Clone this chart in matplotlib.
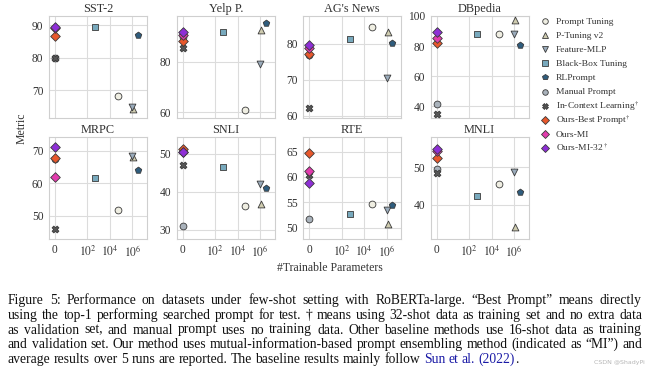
import matplotlib
matplotlib.use('Agg')
import matplotlib.pyplot as plt
from matplotlib.lines import Line2D

SERIF = 'Liberation Serif'
plt.rcParams['font.family'] = SERIF
plt.rcParams['mathtext.fontset'] = 'stix'

GRID_COLOR = '#dcdcdc'
TEXT_COLOR = '#333333'
EDGE_COLOR = '#3a3a3a'

datasets = ['SST-2', 'Yelp P.', "AG's News", 'DBpedia', 'MRPC', 'SNLI', 'RTE', 'MNLI']
methods = ['Prompt Tuning', 'P-Tuning v2', 'Feature-MLP', 'Black-Box Tuning', 'RLPrompt',
           'Manual Prompt', 'In-Context Learning$^\\dagger$', 'Ours-Best Prompt$^\\dagger$',
           'Ours-MI', 'Ours-MI-32$^\\dagger$']
# number of trainable parameters for each method
n_params = [5e4, 1.2e6, 1e6, 500, 3.1e6, 0, 0, 0, 0, 0]

# scores per dataset, same order as `datasets`
prompt_tuning = [68.23, 61.02, 84.81, 87.75, 51.61, 36.13, 54.69, 45.7]
p_tuning_v2 = [64.33, 92.63, 83.46, 97.05, 68.14, 36.89, 50.78, 34.2]
feature_mlp = [64.80, 79.20, 70.44, 87.88, 68.40, 42.01, 53.43, 48.7]
black_box = [89.56, 91.50, 81.51, 87.80, 61.56, 46.58, 52.59, 42.3]
rl_prompt = [87.1, 95.1, 80.2, 81.0, 64.0, 41.1, 54.4, 43.4]
manual_prompt = [79.82, 89.65, 76.96, 41.33, 67.40, 31.11, 51.70, 49.7]
in_context = [79.79, 85.38, 62.21, 34.83, 45.81, 47.11, 60.40, 48.6]
ours_best = [86.6, 88.3, 77.1, 82.2, 67.7, 51.2, 64.8, 52.4]
ours_mi = [89.0, 90.5, 79.0, 85.5, 62.0, 50.4, 61.2, 54.4]
ours_mi_32 = [89.5, 91.6, 79.8, 89.1, 71.1, 50.6, 58.8, 55.0]
scores = [prompt_tuning, p_tuning_v2, feature_mlp, black_box, rl_prompt,
          manual_prompt, in_context, ours_best, ours_mi, ours_mi_32]

MARKERS = ['o', '^', 'v', 's', 'p', 'o', 'X', 'D', 'D', 'D']
COLORS = ['#efeee2', '#cfccb0', '#9aabbb', '#78a9bd', '#2f5d7e',
          '#a9b2bb', '#575757', '#e8582c', '#e23cad', '#8e2fd6']

YLIMS = [(61.7, 92.8), (58, 98), (59.5, 87.8), (32.4, 100),
         (42.8, 74.2), (27.6, 54.4), (47.8, 67.8), (31, 58)]
YTICKS = [[70, 80, 90], [60, 80], [60, 70, 80], [40, 60, 80, 100],
          [50, 60, 70], [30, 40, 50], [50, 55, 60, 65], [40, 50]]

W, H = 650, 380
fig = plt.figure(figsize=(6.5, 3.8), dpi=100)
fig.patch.set_facecolor('white')

col_left = [49, 176.7, 303.3, 430.7]
row_top = [16, 137.3]
ax_w, ax_h = 98, 101.5

for i, name in enumerate(datasets):
    r, c = divmod(i, 4)
    ax = fig.add_axes([col_left[c] / W, 1 - (row_top[r] + ax_h) / H, ax_w / W, ax_h / H])
    for j in range(len(methods)):
        ax.scatter(n_params[j], scores[j][i], marker=MARKERS[j], s=24,
                   facecolor=COLORS[j], edgecolor=EDGE_COLOR, linewidth=0.6, zorder=3 + j)
    ax.set_xscale('symlog', linthresh=1, linscale=0.8)
    ax.set_xlim(-0.6, 2e7)
    ax.set_ylim(*YLIMS[i])
    ax.set_yticks(YTICKS[i])
    ax.set_xticks([0, 1e2, 1e4, 1e6])
    ax.minorticks_off()
    if r == 1:
        ax.set_xticklabels(['0', '$10^2$', '$10^4$', '$10^6$'])
    else:
        ax.set_xticklabels([])
    ax.tick_params(length=0, labelsize=8.3, colors=TEXT_COLOR, pad=4)
    ax.grid(color=GRID_COLOR, linewidth=0.8)
    ax.set_axisbelow(True)
    for s in ax.spines.values():
        s.set_color('#cfcfcf')
        s.set_linewidth(0.8)
    ax.set_title(name, fontsize=8.8, color=TEXT_COLOR, pad=3)

fig.text(330 / W, 1 - 268 / H, '#Trainable Parameters', fontsize=8.5, color=TEXT_COLOR,
         ha='center', va='center')
fig.text(22 / W, 1 - 128 / H, 'Metric', fontsize=8.5, color=TEXT_COLOR,
         ha='center', va='center', rotation=90)

# legend drawn entry by entry so the dagger labels keep an even spacing
for j, label in enumerate(methods):
    yc = 21 + 14.1 * j
    fig.add_artist(Line2D([545 / W], [1 - yc / H], transform=fig.transFigure, linestyle='none',
                          marker=MARKERS[j], markersize=4, markerfacecolor=COLORS[j],
                          markeredgecolor=EDGE_COLOR, markeredgewidth=0.6))
    fig.text(555.5 / W, 1 - (yc + 3) / H, label, fontsize=6.8, color=TEXT_COLOR, va='baseline')

# caption, justified word by word
caption = [
    'Figure 5: Performance on datasets under few-shot setting with RoBERTa-large. \u201cBest Prompt\u201d means directly',
    'using the top-1 performing searched prompt for test. \u2020 means using 32-shot data as training set and no extra data',
    'as validation set, and manual prompt uses no training data. Other baseline methods use 16-shot data as training',
    'and validation set. Our method uses mutual-information-based prompt ensembling method (indicated as \u201cMI\u201d) and',
    'average results over 5 runs are reported. The baseline results mainly follow Sun et al. (2022).',
]
link_words = {'Sun', 'et', 'al.'}
cap_left, cap_right = 8, 642
baselines = [304, 319, 333.5, 348, 363]

renderer = fig.canvas.get_renderer()


def text_width(s, size):
    t = fig.text(0, 0, s, fontsize=size, family=SERIF)
    w = t.get_window_extent(renderer).width
    t.remove()
    return w


# pick the size that lets the widest line just fit
CAP_SIZE = min(10 * (cap_right - cap_left) / text_width(line, 10) for line in caption[:-1]) * 0.99

space_w = text_width('x x', CAP_SIZE) - text_width('xx', CAP_SIZE)
for k, line in enumerate(caption):
    words = line.split(' ')
    widths = [text_width(w, CAP_SIZE) for w in words]
    last = k == len(caption) - 1
    gap = space_w if last else (cap_right - cap_left - sum(widths)) / (len(words) - 1)
    x = cap_left
    yb = 1 - baselines[k] / H
    for w, ww in zip(words, widths):
        if last and w == '(2022).':
            fig.text(x / W, yb, '(2022)', fontsize=CAP_SIZE, color='#1a1aa6', va='baseline')
            fig.text((x + text_width('(2022)', CAP_SIZE)) / W, yb, '.', fontsize=CAP_SIZE,
                     color='#111111', va='baseline')
        else:
            color = '#1a1aa6' if (last and w in link_words) else '#111111'
            fig.text(x / W, yb, w, fontsize=CAP_SIZE, color=color, va='baseline')
        x += ww + gap

fig.text(645 / W, 1 - 364 / H, 'CSDN @ShadyPi', fontsize=4.5, color='#b5b5b5',
         family='DejaVu Sans', ha='right', va='baseline')

fig.savefig('out.png', dpi=100)
